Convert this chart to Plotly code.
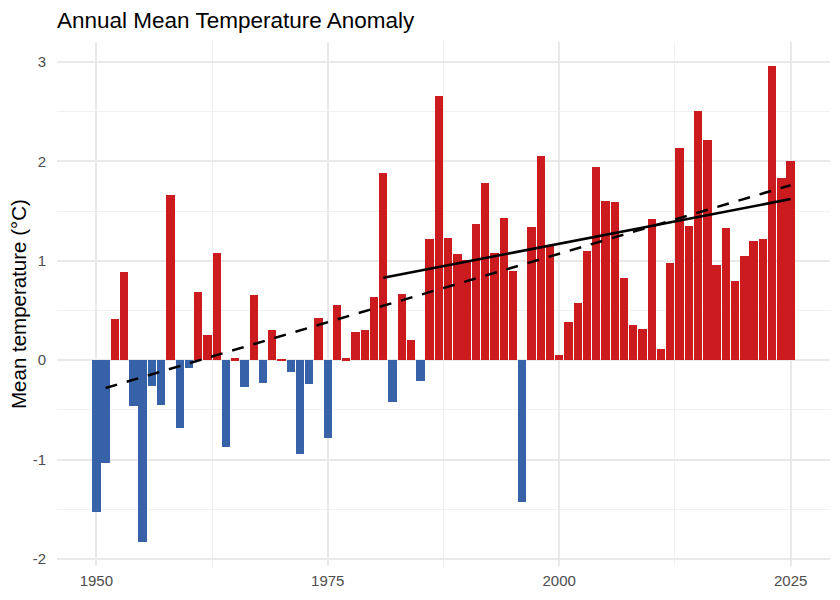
import plotly.graph_objects as go

years = list(range(1950, 2026))
anomaly = [
    -1.53, -1.03, 0.41, 0.89, -0.46, -1.83, -0.26, -0.45, 1.66, -0.68,   # 1950-1959
    -0.08, 0.69, 0.25, 1.08, -0.87, 0.02, -0.27, 0.66, -0.23, 0.30,      # 1960-1969
    0.005, -0.12, -0.94, -0.24, 0.42, -0.78, 0.55, 0.02, 0.28, 0.30,     # 1970-1979
    0.64, 1.88, -0.42, 0.67, 0.20, -0.21, 1.22, 2.66, 1.23, 1.07,        # 1980-1989
    1.01, 1.37, 1.78, 1.08, 1.43, 0.90, -1.43, 1.34, 2.05, 1.15,         # 1990-1999
    0.05, 0.38, 0.58, 1.10, 1.94, 1.60, 1.59, 0.83, 0.35, 0.31,          # 2000-2009
    1.42, 0.11, 0.98, 2.13, 1.35, 2.51, 2.21, 0.96, 1.33, 0.80,          # 2010-2019
    1.05, 1.20, 1.22, 2.96, 1.83, 2.00,                                  # 2020-2025
]

# Trend lines
trend_all_years = [1951, 2025]
trend_all_values = [-0.28, 1.76]
trend_recent_years = [1981, 2025]
trend_recent_values = [0.83, 1.62]

x_ticks = [1950, 1975, 2000, 2025]
y_ticks = [-2, -1, 0, 1, 2, 3]

RED = "#CB1B1F"
BLUE = "#3762A8"
colors = [RED if v >= 0 else BLUE for v in anomaly]

FONT = "Liberation Sans, Arial, Helvetica, sans-serif"

fig = go.Figure()
fig.add_trace(go.Bar(
    x=years, y=anomaly, width=0.9,
    marker=dict(color=colors, line=dict(width=0)),
    showlegend=False, hoverinfo="x+y",
))
fig.add_trace(go.Scatter(
    x=trend_recent_years, y=trend_recent_values, mode="lines",
    line=dict(color="black", width=2.5), showlegend=False,
))
fig.add_trace(go.Scatter(
    x=trend_all_years, y=trend_all_values, mode="lines",
    line=dict(color="black", width=2.5, dash="12px,10px"), showlegend=False,
))

fig.update_layout(
    width=840, height=600,
    margin=dict(l=57, r=10, t=42, b=34),
    paper_bgcolor="white", plot_bgcolor="white",
    font=dict(family=FONT, color="#4d4d4d"),
    bargap=0,
    title=dict(
        text="Annual Mean Temperature Anomaly",
        font=dict(family=FONT, size=22.5, color="black"),
        xref="container", x=57 / 840, xanchor="left",
        yref="container", y=1 - 20 / 600, yanchor="middle",
    ),
    annotations=[dict(
        text="Mean temperature (°C)", textangle=-90,
        xref="paper", yref="paper",
        x=(18 - 57) / 773, y=0.5, xanchor="center", yanchor="middle",
        showarrow=False, font=dict(family=FONT, size=20.5, color="black"),
    )],
)

fig.update_xaxes(
    range=[1945.75, 2029.25], tickvals=x_ticks, ticktext=[str(t) for t in x_ticks],
    showgrid=True, gridcolor="#e9e9e9", gridwidth=1.6,
    minor=dict(tickvals=[1962.5, 1987.5, 2012.5], showgrid=True, gridcolor="#f1f1f1", gridwidth=0.9),
    zeroline=False, showline=False, ticks="",
    tickfont=dict(family=FONT, size=15, color="#4d4d4d"),
    ticklabelstandoff=4,
)
fig.update_yaxes(
    range=[-2.07, 3.20], tickvals=y_ticks, ticktext=[str(t) for t in y_ticks],
    showgrid=True, gridcolor="#e9e9e9", gridwidth=1.6,
    minor=dict(tickvals=[-1.5, -0.5, 0.5, 1.5, 2.5], showgrid=True, gridcolor="#f1f1f1", gridwidth=0.9),
    zeroline=False, showline=False, ticks="",
    tickfont=dict(family=FONT, size=15, color="#4d4d4d"),
    ticklabelstandoff=10,
)

fig.write_html("out.html")
